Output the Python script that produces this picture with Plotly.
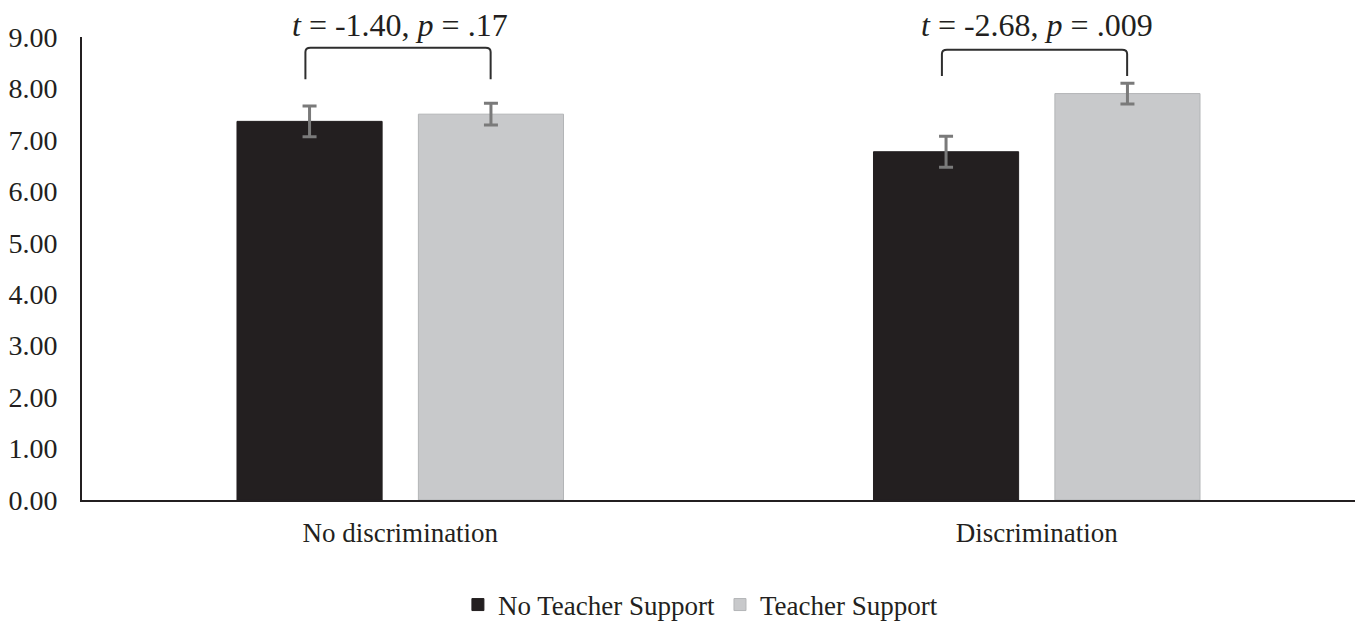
import plotly.graph_objects as go

# Group means and standard errors
conditions = ["No discrimination", "Discrimination"]
no_support_means = [7.36, 6.77]
no_support_err = [0.30, 0.30]
support_means = [7.50, 7.90]
support_err = [0.21, 0.20]
test_labels = ["<i>t</i> = -1.40, <i>p</i> = .17", "<i>t</i> = -2.68, <i>p</i> = .009"]
y_ticks = [0, 1, 2, 3, 4, 5, 6, 7, 8, 9]
Y_MAX = 9

FONT = "Liberation Serif, Times New Roman, serif"
ERR_COLOR = "#7a7a7a"

fig = go.Figure()
fig.add_trace(go.Bar(
    name="No Teacher Support", x=conditions, y=no_support_means,
    marker=dict(color="#231f20", line=dict(color="#231f20", width=1)),
    error_y=dict(type="data", array=no_support_err, color=ERR_COLOR, thickness=3, width=7),
))
fig.add_trace(go.Bar(
    name="Teacher Support", x=conditions, y=support_means,
    marker=dict(color="#c8c9cb", line=dict(color="#b3b5b7", width=1)),
    error_y=dict(type="data", array=support_err, color=ERR_COLOR, thickness=3, width=7),
))

# Significance brackets over each pair of bars
bracket_top = [8.79, 8.75]
bracket_foot = [8.18, 8.24]
half_span = 0.145


def to_paper(v):
    return (v + 0.5) / 2.0


for i, label in enumerate(test_labels):
    xl = to_paper(i - half_span - 0.004)
    xr = to_paper(i + half_span - 0.003)
    yt, yb = bracket_top[i], bracket_foot[i]
    rx, ry = 0.004, 0.08
    path = (f"M {xl},{yb} L {xl},{yt - ry} Q {xl},{yt} {xl + rx},{yt} "
            f"L {xr - rx},{yt} Q {xr},{yt} {xr},{yt - ry} L {xr},{yb}")
    fig.add_shape(type="path", path=path, xref="paper", yref="y",
                  line=dict(color="#2e2e2e", width=2))
    fig.add_annotation(text=label, x=to_paper(i), xref="paper", y=9.23 / Y_MAX, yref="paper",
                       showarrow=False, font=dict(family=FONT, size=32, color="#231f20"),
                       xanchor="center", yanchor="middle")

fig.update_layout(
    width=1368, height=626,
    margin=dict(l=82, r=13, t=37, b=126, autoexpand=False),
    paper_bgcolor="white", plot_bgcolor="white",
    font=dict(family=FONT, size=26, color="#231f20"),
    barmode="group", bargap=0.43, bargroupgap=0.2,
    showlegend=True,
    legend=dict(orientation="h", x=0.512, xanchor="center", xref="container",
                y=1 - 605 / 626, yanchor="middle", yref="container",
                font=dict(family=FONT, size=27, color="#231f20"), itemwidth=30,
                traceorder="normal"),
)
fig.update_xaxes(range=[-0.5, 1.5], showline=True, linecolor="#231f20", linewidth=2,
                 ticks="", showgrid=False, tickfont=dict(family=FONT, size=27),
                 ticklabelstandoff=8, automargin=False)
fig.update_yaxes(range=[0, Y_MAX], tickvals=y_ticks, tickformat=".2f", showline=True,
                 linecolor="#231f20", linewidth=2, ticks="", showgrid=False, zeroline=False,
                 tickfont=dict(family=FONT, size=28), ticklabelstandoff=17, automargin=False)

fig.write_html("out.html")
